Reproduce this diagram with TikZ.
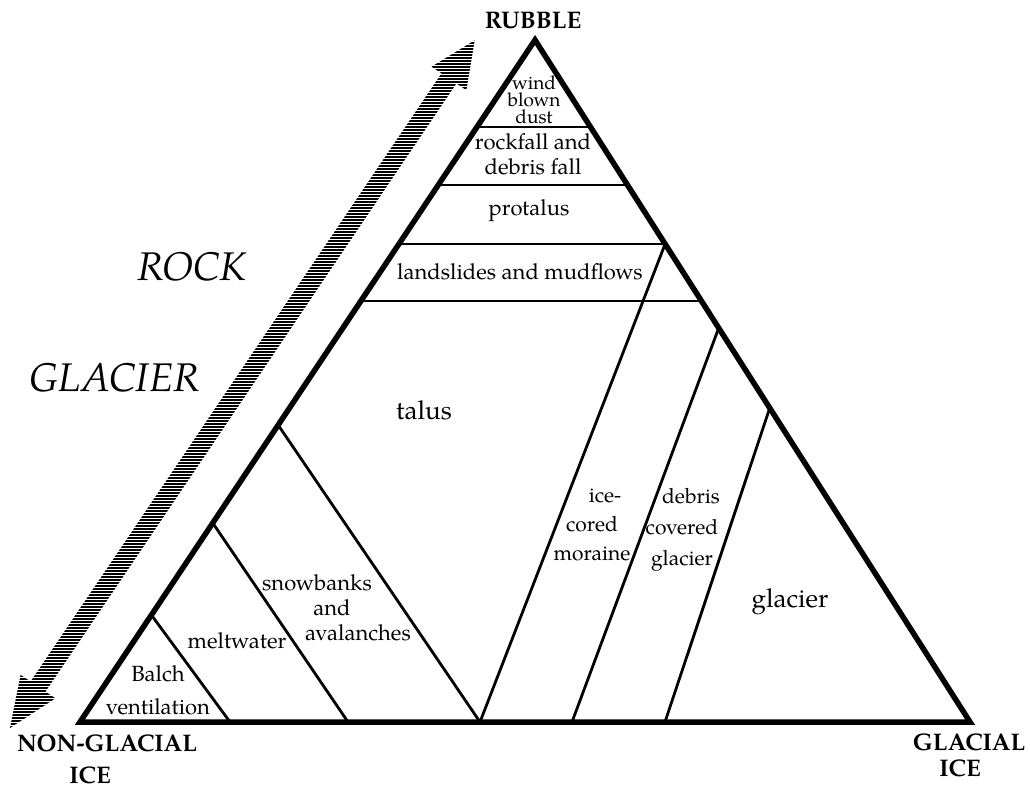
\documentclass[tikz,border=0pt]{standalone}
\usepackage{fontspec}
\setmainfont{TeX Gyre Pagella}
\usetikzlibrary{calc}
\newcommand\nudge[2]{\makebox[0pt]{\hspace*{#1}\hspace*{#1}#2}}

\begin{document}
\begin{tikzpicture}[x=1pt,y=-1pt,
    rim/.style={line width=5.5pt, line join=miter, line cap=round},
    split/.style={line width=2.8pt},
    hatch/.style={line width=2.1pt},
    lbl/.style={inner sep=0pt, align=center, font=\fontsize{22}{25}\selectfont},
    big/.style={inner sep=0pt, font=\fontsize{26}{28}\selectfont},
    side/.style={inner sep=0pt, font=\fontsize{40}{42}\itshape},
    corner/.style={inner sep=0pt, align=center, font=\fontsize{24}{32}\bfseries}]
    \useasboundingbox (0,0) rectangle (1030,791);
    \def\b{722}
    % ---- corners ----
    \coordinate (A) at (535,40);
    \coordinate (L) at (80,\b);
    \coordinate (R) at (970,\b);
    % ---- bands under the apex ----
    \foreach \y in {127,185,244,301}
        \draw[split] ($(L)!{(\b-\y)/682}!(A)$) -- ($(R)!{(\b-\y)/682}!(A)$);
    % ---- slants off the left side ----
    \foreach \y/\x in {425/480,523/348,615/230}
        \draw[split] ($(L)!{(\b-\y)/682}!(A)$) -- (\x,\b);
    % ---- slants off the right side ----
    \foreach \y/\x in {244/480,328/572,408/665}
        \draw[split] ($(R)!{(\b-\y)/682}!(A)$) -- (\x,\b);
    \draw[rim] (A) -- (R) -- (L) -- cycle;
    % ---- double arrow ----
    \begin{scope}[shift={(10,728)}, rotate=55.95]
        \coordinate (a0) at (0,0);
        \coordinate (a1) at (50,-21);
        \coordinate (a2) at (50,-9);
        \coordinate (a3) at (784,-9);
        \coordinate (a4) at (784,-21);
        \coordinate (a5) at (830,0);
        \coordinate (a6) at (784,21);
        \coordinate (a7) at (784,9);
        \coordinate (a8) at (50,9);
        \coordinate (a9) at (50,21);
    \end{scope}
    \begin{scope}
        \clip (a0) -- (a1) -- (a2) -- (a3) -- (a4) -- (a5) -- (a6) -- (a7) -- (a8) -- (a9) -- cycle;
        \foreach \y in {10,13,...,736}
            \draw[hatch] (0,\y) -- (500,\y);
    \end{scope}
    % ---- labels ----
    \node[corner] (rubble) at (533,21) {RUBBLE};
    \node[corner] (nonglacial) at (100,759) {\nudge{7pt}{NON-GLACIAL}\\\nudge{-10pt}{ICE}};
    \node[corner, font=\fontsize{24}{26}\bfseries] (glacialice) at (966,755) {\nudge{3pt}{GLACIAL}\\\nudge{-6pt}{ICE}};
    \node[side] (rock) at (192,267) {ROCK};
    \node[side] (glaciertxt) at (115,378) {GLACIER};
    \node[lbl, font=\fontsize{19}{17}\selectfont] (wind) at (534,100) {wind\\blown\\dust};
    \node[lbl] (rockfall) at (533,154) {rockfall and\\debris fall};
    \node[lbl] (protalus) at (529,211) {protalus};
    \node[lbl] (landslides) at (520,272) {landslides and mudflows};
    \node[big] (talus) at (424,410) {talus};
    \node[lbl] (snowbanks) at (336,608)
        {\nudge{-19pt}{snowbanks}\\\nudge{-4pt}{and}\\\nudge{22pt}{avalanches}};
    \node[lbl] (meltwater) at (237,641) {meltwater};
    \node[lbl, font=\fontsize{22}{33}\selectfont] (balch) at (158,690) {Balch\\ventilation};
    \node[lbl, font=\fontsize{21}{29}\selectfont] (moraine) at (592,525)
        {\nudge{13pt}{ice-}\\cored\\moraine};
    \node[lbl, font=\fontsize{21}{31}\selectfont] (debris) at (682,530)
        {\nudge{9pt}{debris}\\covered\\glacier};
    \node[big] (glacier) at (790,602) {glacier};
\end{tikzpicture}
\end{document}
